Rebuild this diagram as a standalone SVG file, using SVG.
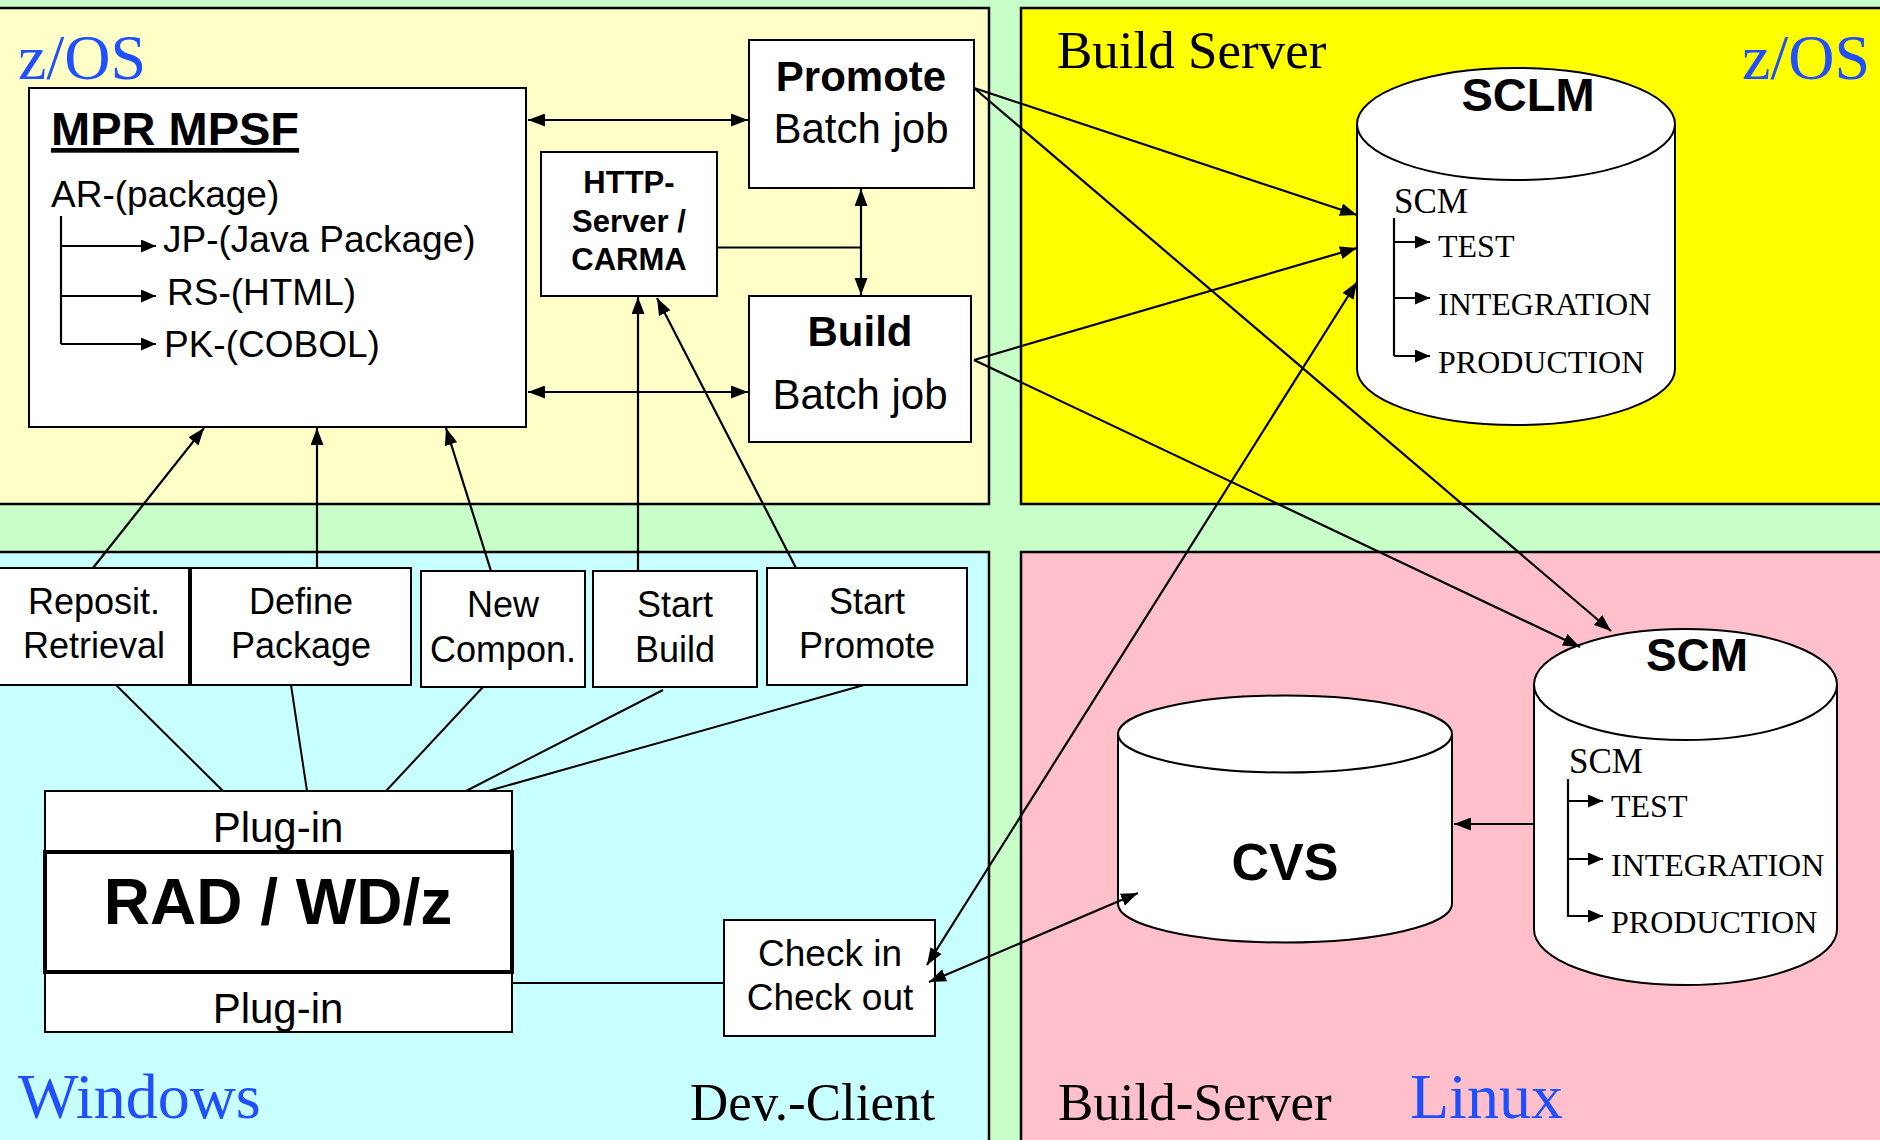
<svg xmlns="http://www.w3.org/2000/svg" width="1880" height="1140" viewBox="0 0 1880 1140">
<defs>
<marker id="ah" viewBox="0 0 17 13" refX="17" refY="6.5" markerWidth="17" markerHeight="13" markerUnits="userSpaceOnUse" orient="auto-start-reverse"><path d="M0,0 L17,6.5 L0,13 z" fill="#000"/></marker>
<marker id="ts" viewBox="0 0 15 13" refX="15" refY="6.5" markerWidth="15" markerHeight="13" markerUnits="userSpaceOnUse" orient="auto"><path d="M0,0 L15,6.5 L0,13 z" fill="#000"/></marker>
</defs>
<style>
.panel{stroke:#000;stroke-width:2.5}
.box{fill:#fff;stroke:#000;stroke-width:2}
.cyl{fill:#fff;stroke:#000;stroke-width:2}
.sans{font-family:"Liberation Sans",Arial,sans-serif;fill:#000}
.serif{font-family:"Liberation Serif","Times New Roman",serif;fill:#000}
.blue{font-family:"Liberation Serif","Times New Roman",serif;fill:#1F4FFF;font-size:64px}
.b{font-weight:bold}
.mid{text-anchor:middle}
.ln{stroke:#000;stroke-width:2;fill:none}
.arr{stroke:#000;stroke-width:2.2;fill:none;marker-end:url(#ah)}
.dbl{stroke:#000;stroke-width:2.2;fill:none;marker-end:url(#ah);marker-start:url(#ah)}
.tree{stroke:#000;stroke-width:2.2;fill:none}
.tarr{stroke:#000;stroke-width:2.2;fill:none;marker-end:url(#ts)}
</style>
<rect x="0" y="0" width="1880" height="1140" fill="#C8FFC8"/>
<g id="panel-zos-client">
<rect class="panel" x="-5" y="8" width="994" height="496" fill="#FFFFC8"/>
<text class="blue" x="18" y="79">z/OS</text>
</g>
<g id="panel-zos-build">
<rect class="panel" x="1021" y="8" width="870" height="496" fill="#FFFF00"/>
<text class="serif" x="1057" y="68" font-size="53">Build Server</text>
<text class="blue" x="1870" y="79" text-anchor="end">z/OS</text>
</g>
<g id="panel-windows">
<rect class="panel" x="-5" y="552" width="994" height="600" fill="#C8FFFF"/>
<text class="blue" x="18" y="1118">Windows</text>
<text class="serif" x="690" y="1120" font-size="53">Dev.-Client</text>
</g>
<g id="panel-linux">
<rect class="panel" x="1021" y="552" width="870" height="600" fill="#FFC0CB"/>
<text class="serif" x="1058" y="1120" font-size="53">Build-Server</text>
<text class="blue" x="1410" y="1118">Linux</text>
</g>

<g id="mpr-mpsf">
<rect class="box" x="29" y="88" width="497" height="339"/>
<text class="sans b" x="51" y="145" font-size="47" text-decoration="underline">MPR MPSF</text>
<text class="sans" x="51" y="207" font-size="37">AR-(package)</text>
<path class="tree" d="M61,216 V344"/>
<path class="tarr" d="M61,246 H156"/>
<path class="tarr" d="M61,296 H156"/>
<path class="tarr" d="M61,344 H156"/>
<text class="sans" x="163" y="252" font-size="37">JP-(Java Package)</text>
<text class="sans" x="167" y="305" font-size="37">RS-(HTML)</text>
<text class="sans" x="164" y="357" font-size="37">PK-(COBOL)</text>
</g>
<g id="promote-batch">
<rect class="box" x="749" y="40" width="225" height="148"/>
<text class="sans b mid" x="861" y="91" font-size="42">Promote</text>
<text class="sans mid" x="861" y="143" font-size="42">Batch job</text>
</g>
<g id="http-server">
<rect class="box" x="541" y="152" width="176" height="144"/>
<text class="sans b mid" x="629" y="193" font-size="31">HTTP-</text>
<text class="sans b mid" x="629" y="232" font-size="31">Server /</text>
<text class="sans b mid" x="629" y="270" font-size="31">CARMA</text>
</g>
<g id="build-batch">
<rect class="box" x="749" y="296" width="222" height="146"/>
<text class="sans b mid" x="860" y="346" font-size="42">Build</text>
<text class="sans mid" x="860" y="409" font-size="42">Batch job</text>
</g>

<g id="sclm">
<path class="cyl" d="M1357,124 V369 A159,56 0 0 0 1675,369 V124"/>
<ellipse class="cyl" cx="1516" cy="124" rx="159" ry="56"/>
<text class="sans b mid" x="1528" y="111" font-size="47">SCLM</text>
<text class="serif" x="1394" y="213" font-size="35">SCM</text>
<path class="tree" d="M1394,218 V356"/>
<path class="tarr" d="M1394,242 H1430"/>
<path class="tarr" d="M1394,298 H1430"/>
<path class="tarr" d="M1394,356 H1430"/>
<text class="serif" x="1438" y="257" font-size="32">TEST</text>
<text class="serif" x="1438" y="315" font-size="32">INTEGRATION</text>
<text class="serif" x="1438" y="373" font-size="32">PRODUCTION</text>
</g>

<g id="reposit">
<rect class="box" x="-2" y="568" width="191" height="117"/>
<text class="sans mid" x="94" y="614" font-size="36">Reposit.</text>
<text class="sans mid" x="94" y="658" font-size="36">Retrieval</text>
</g>
<g id="define-package">
<rect class="box" x="191" y="568" width="220" height="117"/>
<text class="sans mid" x="301" y="614" font-size="36">Define</text>
<text class="sans mid" x="301" y="658" font-size="36">Package</text>
</g>
<g id="new-compon">
<rect class="box" x="421" y="571" width="164" height="116"/>
<text class="sans mid" x="503" y="617" font-size="36">New</text>
<text class="sans mid" x="503" y="662" font-size="36">Compon.</text>
</g>
<g id="start-build">
<rect class="box" x="593" y="571" width="164" height="116"/>
<text class="sans mid" x="675" y="617" font-size="36">Start</text>
<text class="sans mid" x="675" y="662" font-size="36">Build</text>
</g>
<g id="start-promote">
<rect class="box" x="767" y="568" width="200" height="117"/>
<text class="sans mid" x="867" y="614" font-size="36">Start</text>
<text class="sans mid" x="867" y="658" font-size="36">Promote</text>
</g>
<g id="rad-wdz">
<rect class="box" x="45" y="791" width="467" height="241"/>
<rect x="45" y="852" width="467" height="120" fill="#fff" stroke="#000" stroke-width="4"/>
<text class="sans mid" x="278" y="842" font-size="42">Plug-in</text>
<text class="sans b mid" x="278" y="924" font-size="64">RAD / WD/z</text>
<text class="sans mid" x="278" y="1023" font-size="42">Plug-in</text>
</g>
<g id="checkin-checkout">
<rect class="box" x="724" y="920" width="211" height="116"/>
<text class="sans mid" x="830" y="966" font-size="37">Check in</text>
<text class="sans mid" x="830" y="1010" font-size="37">Check out</text>
</g>

<g id="cvs">
<path class="cyl" d="M1118,734 V904 A167,38.5 0 0 0 1452,904 V734"/>
<ellipse class="cyl" cx="1285" cy="734" rx="167" ry="38.5"/>
<text class="sans b mid" x="1285" y="880" font-size="52">CVS</text>
</g>
<g id="linux-scm">
<path class="cyl" d="M1534,684.5 V929.5 A151.5,55.5 0 0 0 1837,929.5 V684.5"/>
<ellipse class="cyl" cx="1685.5" cy="684.5" rx="151.5" ry="55.5"/>
<text class="sans b mid" x="1697" y="671" font-size="46">SCM</text>
<text class="serif" x="1569" y="773" font-size="35">SCM</text>
<path class="tree" d="M1568,779 V917"/>
<path class="tarr" d="M1568,801 H1603"/>
<path class="tarr" d="M1568,859 H1603"/>
<path class="tarr" d="M1568,916 H1603"/>
<text class="serif" x="1611" y="817" font-size="32">TEST</text>
<text class="serif" x="1611" y="876" font-size="32">INTEGRATION</text>
<text class="serif" x="1611" y="933" font-size="32">PRODUCTION</text>
</g>

<g id="connectors">
<line class="dbl" x1="528" y1="120" x2="748" y2="120"/>
<line class="dbl" x1="528" y1="392" x2="748" y2="392"/>
<line class="dbl" x1="861" y1="189" x2="861" y2="295"/>
<line class="ln" x1="717" y1="247.5" x2="861" y2="247.5"/>
<line class="arr" x1="93" y1="568" x2="204" y2="428"/>
<line class="arr" x1="317" y1="568" x2="317" y2="428"/>
<line class="arr" x1="491" y1="571" x2="446" y2="428"/>
<line class="arr" x1="638" y1="571" x2="638" y2="297"/>
<line class="arr" x1="796" y1="568" x2="657" y2="298"/>
<line class="arr" x1="974" y1="88" x2="1357" y2="215"/>
<line class="arr" x1="974" y1="360" x2="1357" y2="248"/>
<line class="arr" x1="974" y1="88" x2="1611" y2="631"/>
<line class="arr" x1="974" y1="360" x2="1580" y2="647"/>
<line class="dbl" x1="927" y1="965" x2="1357" y2="282"/>
<line class="dbl" x1="929" y1="982" x2="1138" y2="893"/>
<line class="arr" x1="1534" y1="824" x2="1454" y2="824"/>
<line class="ln" x1="116" y1="685" x2="223" y2="791"/>
<line class="ln" x1="291" y1="685" x2="307" y2="791"/>
<line class="ln" x1="483" y1="687" x2="386" y2="791"/>
<line class="ln" x1="663" y1="690" x2="466" y2="791"/>
<line class="ln" x1="864" y1="685" x2="488" y2="791"/>
<line class="ln" x1="513" y1="983" x2="724" y2="983"/>
</g>
</svg>
